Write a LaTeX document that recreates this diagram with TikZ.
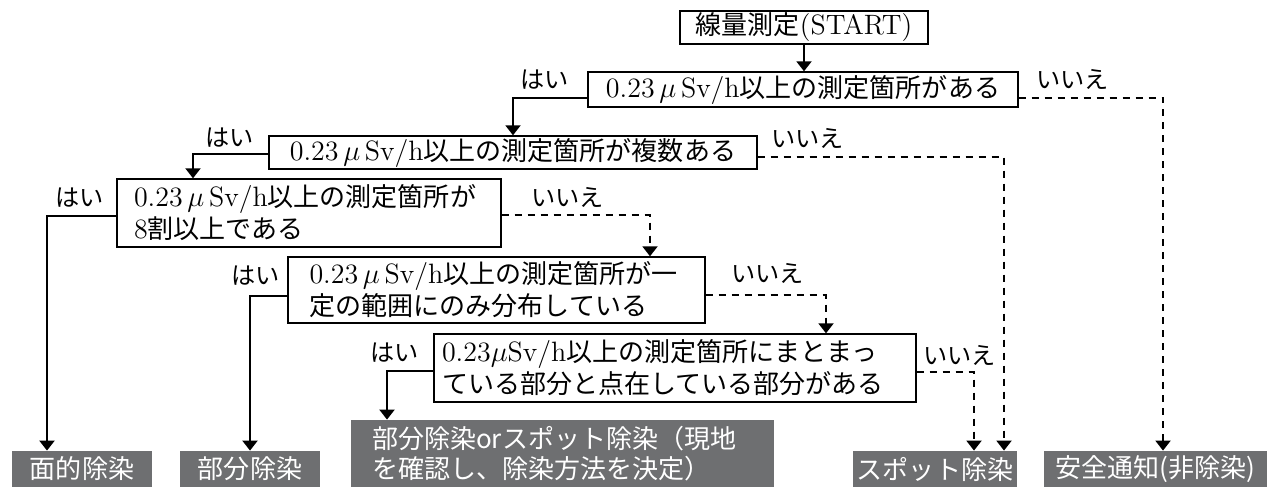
\documentclass[tikz,border=0pt]{standalone}
\usepackage{fontspec}
\usetikzlibrary{arrows.meta}
\newfontfamily\jp[Scale=0.93]{Noto Sans CJK JP}
\definecolor{endgray}{RGB}{110,111,113}
\newcommand\dose{0.23\,$\mu$\,Sv/h}

\begin{document}
\begin{tikzpicture}[>={Triangle[width=7.5pt,length=5pt]}, x=0.5pt, y=-0.5pt,
    qbox/.style={draw, line width=0.7pt, inner sep=0pt, font=\fontsize{14}{16}\selectfont},
    endbox/.style={fill=endgray, text=white, inner sep=0pt, minimum height=18pt, font=\fontsize{14}{15}\selectfont\jp},
    yes/.style={line width=1pt, ->},
    no/.style={line width=1pt, dash pattern=on 3.5pt off 3pt, ->},
    lbl/.style={inner sep=1pt, font=\fontsize{13}{13}\selectfont\jp}]
    \useasboundingbox (0,0) rectangle (1278,487);

    % Question boxes
    \node[qbox, minimum width=124pt, minimum height=16.5pt] (start) at (804,27.5) {{\jp 線量測定}(START)};
    \node[qbox, minimum width=215pt, minimum height=17.5pt] (q1) at (803,89.5) {\dose{\jp 以上の測定箇所がある}};
    \node[qbox, minimum width=244pt, minimum height=16.5pt] (q2) at (513,152.5) {\dose{\jp 以上の測定箇所が複数ある}};
    \node[qbox, minimum width=192pt, minimum height=34pt, text width=175pt, align=left] (q3) at (309,213)
        {\dose{\jp 以上の測定箇所が}\\8{\jp 割以上である}};
    \node[qbox, minimum width=208.5pt, minimum height=33pt, text width=187pt, align=left] (q4) at (496.5,290)
        {\dose{\jp 以上の測定箇所が一}\\{\jp 定の範囲にのみ分布している}};
    \node[qbox, minimum width=241pt, minimum height=34pt, text width=233pt, align=left] (q5) at (675,368)
        {0.23$\mu$Sv/h{\jp 以上の測定箇所にまとまっ}\\{\jp ている部分と点在している部分がある}};

    % Result boxes
    \node[endbox, minimum width=70pt] (e1) at (82,469) {面的除染};
    \node[endbox, minimum width=70pt] (e2) at (250,469) {部分除染};
    \node[endbox, minimum width=211.5pt, minimum height=33.5pt, text width=190.5pt, align=left] (e3) at (562.5,453.5)
        {部分除染orスポット除染（現地\\を確認し、除染方法を決定）};
    \node[endbox, minimum width=82pt] (e4) at (935,469) {スポット除染};
    \node[endbox, minimum width=111.5pt] (e5) at (1155.5,469) {安全通知(非除染)};

    % Connectors
    \draw[yes] (start.south) -- (start.south |- q1.north);
    \draw[yes] ([yshift=-4pt]q1.west) -| (q2.north);
    \draw[no] ([yshift=-4pt]q1.east) -| ([xshift=3.75pt]e5.north);
    \draw[yes] ([yshift=-0.75pt]q2.west) -| ([xshift=-58pt]q3.north);
    \draw[no] ([yshift=-2.25pt]q2.east) -| ([xshift=34.5pt]e4.north);
    \draw[yes] ([yshift=-1.5pt]q3.west) -| ([xshift=-17.5pt]e1.north);
    \draw[no] ([yshift=-1pt]q3.east) -| ([xshift=76.75pt]q4.north);
    \draw[yes] ([yshift=-3pt]q4.west) -| (e2.north);
    \draw[no] ([yshift=-2.5pt]q4.east) -| ([xshift=75.5pt]q5.north);
    \draw[yes] ([yshift=-1.5pt]q5.west) -| ([xshift=-87.75pt]e3.north);
    \draw[no] ([yshift=-2pt]q5.east) -| ([xshift=19.5pt]e4.north);

    % Labels
    \node[lbl, anchor=south east] (y1) at ([xshift=-8pt,yshift=-1pt]q1.west) {はい};
    \node[lbl, anchor=south west] (n1) at ([xshift=7.5pt,yshift=-1pt]q1.east) {いいえ};
    \node[lbl, anchor=south east] (y2) at ([xshift=-6pt,yshift=1.5pt]q2.west) {はい};
    \node[lbl, anchor=south west] (n2) at ([xshift=5.5pt,yshift=1pt]q2.east) {いいえ};
    \node[lbl, anchor=south east] (y3) at ([xshift=-5pt,yshift=1.5pt]q3.west) {はい};
    \node[lbl, anchor=south west] (n3) at ([xshift=13.5pt,yshift=1.5pt]q3.east) {いいえ};
    \node[lbl, anchor=south east] (y4) at ([xshift=-2.5pt,yshift=1pt]q4.west) {はい};
    \node[lbl, anchor=south west] (n4) at ([xshift=11.5pt,yshift=2pt]q4.east) {いいえ};
    \node[lbl, anchor=south east] (y5) at ([xshift=-6pt,yshift=1.5pt]q5.west) {はい};
    \node[lbl, anchor=south west] (n5) at ([xshift=2pt,yshift=0pt]q5.east) {いいえ};
\end{tikzpicture}
\end{document}
